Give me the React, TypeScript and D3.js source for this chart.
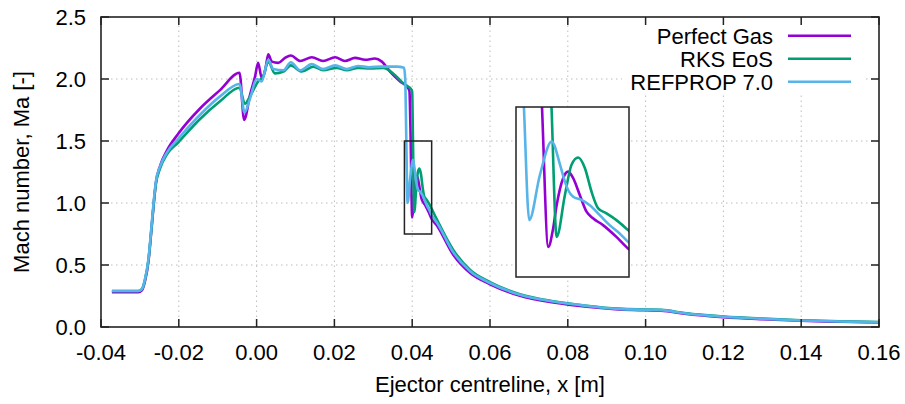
import React from "react";
import * as d3 from "d3";

// ---------- data ----------
const xTicks = [-0.04, -0.02, 0.0, 0.02, 0.04, 0.06, 0.08, 0.1, 0.12, 0.14, 0.16];
const yTicks = [0.0, 0.5, 1.0, 1.5, 2.0, 2.5];

const seriesNames = ["Perfect Gas", "RKS EoS", "REFPROP 7.0"];
const seriesColors = ["#9400d3", "#009e73", "#56b4e9"];

const perfectGasX = [
  -0.0372, -0.0304, -0.0295, -0.0287, -0.0278, -0.027, -0.0264, -0.0259, -0.0248, -0.0231,
  -0.0201, -0.0146, -0.0094, -0.0044, -0.0032, -0.0017, -0.0004, 0.0004, 0.0013, 0.0022,
  0.003, 0.0039, 0.0056, 0.0073, 0.0088, 0.0112, 0.0142, 0.0171, 0.0202, 0.0227,
  0.0253, 0.0279, 0.0304, 0.0322, 0.0343, 0.0369, 0.039, 0.0393, 0.03955, 0.04,
  0.0403, 0.04052, 0.04092, 0.04123, 0.04154, 0.04195, 0.04237, 0.04277, 0.04339, 0.04422,
  0.04494, 0.0463, 0.0506, 0.0549, 0.06, 0.0677, 0.0763, 0.0849, 0.093, 0.1,
  0.104, 0.11, 0.12, 0.13, 0.14, 0.15, 0.16,
];
const perfectGasY = [
  0.28, 0.28, 0.295, 0.37, 0.53, 0.8, 1.01, 1.16, 1.3, 1.42,
  1.56, 1.76, 1.91, 2.05, 1.67, 1.87, 2.02, 2.13, 2.01, 2.07,
  2.2, 2.14, 2.13, 2.17, 2.19, 2.145, 2.175, 2.145, 2.175, 2.145,
  2.17, 2.155, 2.165, 2.14, 2.06, 1.98, 1.925, 1.9, 1.6, 0.883,
  0.964, 1.067, 1.186, 1.215, 1.186, 1.112, 1.038, 1.009, 0.979, 0.927,
  0.876, 0.82, 0.58, 0.435, 0.345, 0.252, 0.198, 0.163, 0.142, 0.135,
  0.132, 0.108, 0.08, 0.063, 0.05, 0.042, 0.036,
];

const rksX = [
  -0.0372, -0.0304, -0.0295, -0.0287, -0.0278, -0.027, -0.0264, -0.0259, -0.0248, -0.0231,
  -0.0201, -0.0146, -0.0094, -0.0044, -0.003, -0.0017, 0.0004, 0.0017, 0.003, 0.0047,
  0.0069, 0.0088, 0.0116, 0.0146, 0.0171, 0.0206, 0.0232, 0.0261, 0.0292, 0.0326,
  0.0351, 0.0377, 0.0399, 0.04, 0.0402, 0.04052, 0.04103, 0.04144, 0.04185, 0.04227,
  0.04268, 0.04309, 0.0436, 0.04422, 0.04494, 0.0463, 0.0506, 0.0549, 0.06, 0.0677,
  0.0763, 0.0849, 0.093, 0.1, 0.104, 0.11, 0.12, 0.13, 0.14, 0.15, 0.16,
];
const rksY = [
  0.29, 0.29, 0.305, 0.38, 0.54, 0.8, 1.01, 1.15, 1.28, 1.39,
  1.49, 1.675, 1.82, 1.93, 1.8, 1.86, 1.98, 2.02, 2.14, 2.045,
  2.06, 2.11, 2.06, 2.1, 2.07, 2.09, 2.07, 2.09, 2.085, 2.09,
  2.045, 1.965, 1.91, 1.89, 1.5, 0.927, 1.112, 1.245, 1.277, 1.23,
  1.126, 1.053, 1.031, 1.001, 0.957, 0.87, 0.62, 0.46, 0.362, 0.265,
  0.208, 0.172, 0.148, 0.141, 0.138, 0.113, 0.085, 0.068, 0.055, 0.046, 0.04,
];

const refpropX = [
  -0.0372, -0.0304, -0.0295, -0.0287, -0.0278, -0.027, -0.0264, -0.0259, -0.0248, -0.0231,
  -0.0201, -0.0146, -0.0094, -0.0044, -0.0031, -0.0017, 0.0, 0.0013, 0.003, 0.0043,
  0.0069, 0.0088, 0.0112, 0.0142, 0.0171, 0.0202, 0.0232, 0.0261, 0.029, 0.032,
  0.036, 0.0379, 0.0382, 0.03849, 0.03882, 0.03948, 0.04021, 0.04073, 0.04103, 0.04123,
  0.04154, 0.04206, 0.04257, 0.04319, 0.0438, 0.04442, 0.04494, 0.0463, 0.0506, 0.0549,
  0.06, 0.0677, 0.0763, 0.0849, 0.093, 0.1, 0.104, 0.11, 0.12, 0.13, 0.14, 0.15, 0.16,
];
const refpropY = [
  0.29, 0.29, 0.305, 0.385, 0.55, 0.82, 1.03, 1.17, 1.295, 1.405,
  1.52, 1.71, 1.86, 1.96, 1.73, 1.84, 2.0, 1.98, 2.155, 2.08,
  2.07, 2.135, 2.07, 2.12, 2.08, 2.11, 2.08, 2.105, 2.095, 2.1,
  2.1, 2.09, 2.0, 1.5, 1.001, 1.2, 1.348, 1.245, 1.171, 1.134,
  1.104, 1.09, 1.067, 1.023, 0.979, 0.942, 0.905, 0.845, 0.6, 0.45,
  0.355, 0.26, 0.205, 0.17, 0.146, 0.139, 0.136, 0.111, 0.083, 0.066, 0.053, 0.044, 0.038,
];

// zoomed region shown in the inset
const zoomXRange = [0.038, 0.045];
const zoomYRange = [0.75, 1.5];

// ---------- layout ----------
const W = 905;
const H = 404;
const M = { left: 101, right: 26, top: 17, bottom: 77 };
const INSET = { x: 516, y: 107, w: 113, h: 170 };
const FONT = "'Liberation Sans', Arial, Helvetica, sans-serif";
const FS = 22;

type Pt = [number, number];

export default function App() {
  const x = d3.scaleLinear().domain([-0.04, 0.16]).range([M.left, W - M.right]);
  const y = d3.scaleLinear().domain([0, 2.5]).range([H - M.bottom, M.top]);
  const xi = d3.scaleLinear().domain(zoomXRange).range([INSET.x, INSET.x + INSET.w]);
  const yi = d3.scaleLinear().domain(zoomYRange).range([INSET.y + INSET.h, INSET.y]);

  const series: Pt[][] = [
    perfectGasX.map((v, i) => [v, perfectGasY[i]] as Pt),
    rksX.map((v, i) => [v, rksY[i]] as Pt),
    refpropX.map((v, i) => [v, refpropY[i]] as Pt),
  ];

  const mainLine = d3
    .line<Pt>()
    .x((d) => x(d[0]))
    .y((d) => y(d[1]))
    .curve(d3.curveMonotoneX);
  const insetLine = d3
    .line<Pt>()
    .x((d) => xi(d[0]))
    .y((d) => yi(d[1]))
    .curve(d3.curveMonotoneX);

  const [x0, x1] = x.range();
  const [y0, y1] = y.range();
  const fmtX = (v: number) => (Math.abs(v) < 1e-9 ? 0 : v).toFixed(2);
  const fmtY = (v: number) => v.toFixed(1);
  const tickLen = 8;
  const axisColor = "#222";
  const gridColor = "#bdbdbd";

  return (
    <svg
      width={W}
      height={H}
      style={{ position: "absolute", left: 0, top: 0, background: "#fff" }}
      fontFamily={FONT}
    >
      <defs>
        <clipPath id="mainClip">
          <rect x={x0} y={y1} width={x1 - x0} height={y0 - y1} />
        </clipPath>
        <clipPath id="insetClip">
          <rect x={INSET.x} y={INSET.y} width={INSET.w} height={INSET.h} />
        </clipPath>
      </defs>
      <rect x={0} y={0} width={W} height={H} fill="#fff" />

      {/* grid */}
      <g stroke={gridColor} strokeWidth={1} strokeDasharray="1.5,3.5">
        {xTicks.slice(1, -1).map((t) => (
          <line key={"gx" + t} x1={x(t)} x2={x(t)} y1={y0} y2={y1} />
        ))}
        {yTicks.slice(1, -1).map((t) => (
          <line key={"gy" + t} x1={x0} x2={x1} y1={y(t)} y2={y(t)} />
        ))}
      </g>

      {/* legend background */}
      <rect x={622} y={20} width={244} height={73} fill="#fff" />

      {/* main curves */}
      <g clipPath="url(#mainClip)" fill="none" strokeWidth={2.6} strokeLinejoin="round">
        {series.map((s, i) => (
          <path key={"m" + i} d={mainLine(s) || ""} stroke={seriesColors[i]} />
        ))}
      </g>

      {/* zoom region marker */}
      <rect
        x={x(zoomXRange[0])}
        y={y(zoomYRange[1])}
        width={x(zoomXRange[1]) - x(zoomXRange[0])}
        height={y(zoomYRange[0]) - y(zoomYRange[1])}
        fill="none"
        stroke={axisColor}
        strokeWidth={1.5}
      />

      {/* inset */}
      <rect x={INSET.x} y={INSET.y} width={INSET.w} height={INSET.h} fill="#fff" />
      <g clipPath="url(#insetClip)" fill="none" strokeWidth={2.6} strokeLinejoin="round">
        {series.map((s, i) => (
          <path key={"i" + i} d={insetLine(s) || ""} stroke={seriesColors[i]} />
        ))}
      </g>
      <rect
        x={INSET.x}
        y={INSET.y}
        width={INSET.w}
        height={INSET.h}
        fill="none"
        stroke={axisColor}
        strokeWidth={1.5}
      />

      {/* legend */}
      {seriesNames.map((n, i) => {
        const cy = 35.7 + i * 23;
        return (
          <g key={"lg" + i}>
            <text x={773} y={cy} dy="0.36em" textAnchor="end" fontSize={FS} fill="#000">
              {n}
            </text>
            <line x1={788} x2={851} y1={cy} y2={cy} stroke={seriesColors[i]} strokeWidth={2.6} />
          </g>
        );
      })}

      {/* ticks (mirrored, inward) */}
      <g stroke={axisColor} strokeWidth={1.5}>
        {xTicks.map((t) => (
          <g key={"tx" + t}>
            <line x1={x(t)} x2={x(t)} y1={y0} y2={y0 - tickLen} />
            <line x1={x(t)} x2={x(t)} y1={y1} y2={y1 + tickLen} />
          </g>
        ))}
        {yTicks.map((t) => (
          <g key={"ty" + t}>
            <line x1={x0} x2={x0 + tickLen} y1={y(t)} y2={y(t)} />
            <line x1={x1} x2={x1 - tickLen} y1={y(t)} y2={y(t)} />
          </g>
        ))}
      </g>

      {/* border */}
      <rect
        x={x0}
        y={y1}
        width={x1 - x0}
        height={y0 - y1}
        fill="none"
        stroke={axisColor}
        strokeWidth={1.6}
      />

      {/* tick labels */}
      <g fontSize={FS} fill="#000">
        {xTicks.map((t) => (
          <text key={"lx" + t} x={x(t)} y={y0 + 25} dy="0.36em" textAnchor="middle">
            {fmtX(t)}
          </text>
        ))}
        {yTicks.map((t) => (
          <text key={"ly" + t} x={x0 - 15} y={y(t)} dy="0.36em" textAnchor="end">
            {fmtY(t)}
          </text>
        ))}
      </g>

      {/* axis titles */}
      <text x={(x0 + x1) / 2} y={384} dy="0.36em" textAnchor="middle" fontSize={FS} fill="#000">
        Ejector centreline, x [m]
      </text>
      <text
        transform={`translate(21, ${(y0 + y1) / 2}) rotate(-90)`}
        dy="0.36em"
        textAnchor="middle"
        fontSize={FS}
        fill="#000"
      >
        Mach number, Ma [-]
      </text>
    </svg>
  );
}
